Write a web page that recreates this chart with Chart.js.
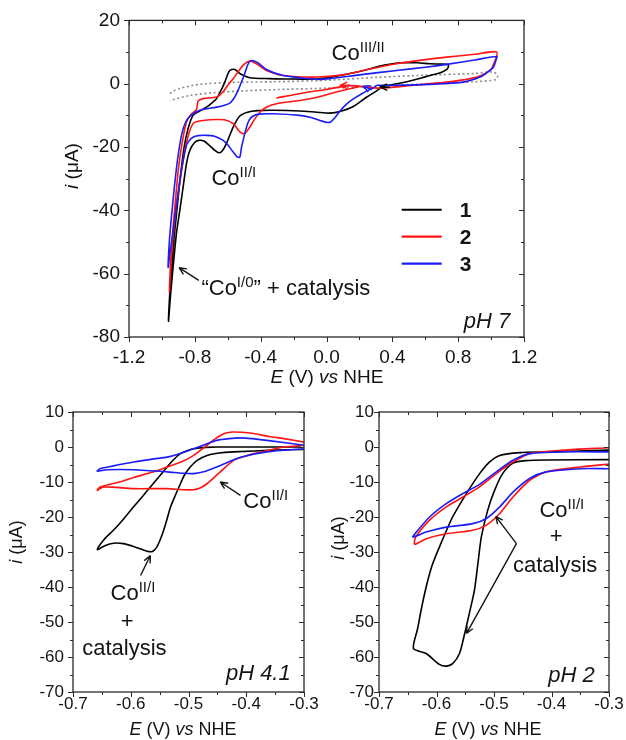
<!DOCTYPE html>
<html>
<head>
<meta charset="utf-8">
<title>Co complexes CV</title>
<script src="https://cdn.jsdelivr.net/npm/chart.js@4.4.1/dist/chart.umd.min.js"></script>
<style>
  html, body { margin: 0; padding: 0; background: #fff; }
  #wrap { position: relative; width: 626px; height: 740px; overflow: hidden; background: #fff; }
  canvas { position: absolute; }
  #c7 { left: 0; top: 0; }
  #c41 { left: 0; top: 390px; }
  #c2 { left: 300px; top: 390px; }
</style>
</head>
<body>
<div id="wrap">
  <canvas id="c7" width="626" height="390"></canvas>
  <canvas id="c41" width="340" height="350"></canvas>
  <canvas id="c2" width="326" height="350"></canvas>
</div>
<script>
/* ---- data: [E (V vs NHE), i (uA)] ---- */

// pH 7 panel
const ph7Blank = [[-0.951,-3.1],[-0.93,-2.3],[-0.891,-1.5],[-0.81,-0.5],[-0.729,0],[-0.527,0.5],[-0.326,0.6],[0,1.1],[0.3,2.0],[0.6,2.7],[0.893,3.2],[1.012,3.7],[1.04,2.6],
  [1.03,1.3],[0.89,0.6],[0.6,0],[0.282,-0.9],[0,-1.4],[-0.326,-1.9],[-0.628,-2.6],[-0.83,-3.7],[-0.951,-5.3]];
const ph7Co1 = [[0.345,-0.8],[0.30,-2.4],[0.245,-4.2],[0.163,-7.2],[0.082,-8.8],[0.02,-9.3],[-0.06,-9.0],[-0.162,-8.6],[-0.324,-8.4],[-0.42,-8.5],[-0.48,-9.0],[-0.527,-10.2],[-0.567,-13.7],[-0.608,-18.9],[-0.635,-21.3],[-0.655,-21.8],[-0.68,-21.0],[-0.709,-19.6],[-0.745,-18.1],[-0.775,-17.9],[-0.80,-18.5],[-0.83,-21],[-0.85,-25],[-0.871,-32.6],[-0.89,-39.5],[-0.912,-47.4],[-0.932,-57.9],[-0.948,-67],[-0.96,-75],
  [-0.952,-66],[-0.94,-57],[-0.925,-48],[-0.905,-38],[-0.885,-28],[-0.865,-20],[-0.84,-14],[-0.811,-10],[-0.77,-8.6],[-0.729,-7.4],[-0.69,-5.8],[-0.668,-4.7],[-0.64,-2],[-0.618,0.5],[-0.6,3],[-0.587,4.2],[-0.557,4.5],[-0.535,3.6],[-0.516,2.9],[-0.466,1.9],[-0.35,1.6],[-0.263,1.5],[-0.06,1.5],[0.02,2.0],[0.142,3.2],[0.25,4.5],[0.325,5.6],[0.446,6.6],[0.55,6.6],[0.629,6.3],[0.70,6.2],[0.74,6.0],
  [0.735,4.7],[0.70,3.6],[0.65,2.9],[0.588,2.0],[0.50,0.8],[0.426,0],[0.345,-0.8]];
const ph7Co2 = [[-0.304,-4.5],[-0.15,-3.0],[0.0,-1.8],[0.142,-0.6],[0.325,-1.4],[0.527,-0.5],[0.73,0.5],[0.873,1.6],[0.94,2.6],[0.994,4.2],[1.01,5.5],[1.035,10],
  [0.9,9.3],[0.73,8.4],[0.6,7.6],[0.426,6.3],[0.25,4.5],[0.1,2.8],[-0.06,2.1],[-0.263,2.6],[-0.365,4.2],[-0.425,6.3],[-0.466,7.2],[-0.507,5.8],[-0.567,1.6],[-0.6,-0.5],[-0.629,-2.6],[-0.668,-4.2],[-0.75,-4.7],[-0.78,-5.5],[-0.79,-8.2],[-0.82,-9.5],[-0.85,-12],[-0.875,-18],[-0.9,-27],[-0.918,-37],[-0.935,-47],[-0.948,-57],[-0.955,-66],
  [-0.945,-57],[-0.93,-47],[-0.91,-38],[-0.885,-29],[-0.86,-21],[-0.835,-15.5],[-0.811,-12.6],[-0.79,-12.0],[-0.75,-11.6],[-0.668,-11.3],[-0.62,-11.4],[-0.567,-12.6],[-0.53,-15],[-0.507,-15.8],[-0.49,-15.4],[-0.47,-14],[-0.44,-11.5],[-0.405,-9],[-0.36,-7.3],[-0.304,-6.3],[-0.162,-5.3],[-0.05,-4.2],[0.061,-2.6],[0.142,-1.6],[0.2,-0.9]];
const ph7Co3 = [[0.305,-0.5],[0.284,-1.3],[0.22,-3],[0.163,-4.8],[0.12,-6.5],[0.082,-8.6],[0.05,-10.8],[0.025,-12.1],[0.0,-12.2],[-0.04,-11.6],[-0.1,-10.6],[-0.162,-10],[-0.324,-9.5],[-0.41,-9.6],[-0.446,-10.2],[-0.47,-11.5],[-0.486,-13.7],[-0.516,-20],[-0.527,-23.2],[-0.545,-23.0],[-0.567,-21.6],[-0.6,-19.3],[-0.628,-17.9],[-0.68,-16.6],[-0.729,-16.3],[-0.78,-16.4],[-0.811,-16.9],[-0.835,-18],[-0.851,-19.5],[-0.87,-24],[-0.89,-30],[-0.91,-38],[-0.93,-46],[-0.95,-53],[-0.962,-58],
  [-0.955,-50],[-0.942,-42],[-0.925,-33],[-0.905,-24],[-0.88,-16],[-0.855,-12],[-0.83,-10.3],[-0.77,-8.4],[-0.668,-7.4],[-0.62,-6.8],[-0.587,-6.1],[-0.565,-4.8],[-0.547,-3.2],[-0.527,-0.8],[-0.507,1.8],[-0.49,4.3],[-0.476,6.3],[-0.458,7.3],[-0.44,7.2],[-0.415,6.6],[-0.365,4.5],[-0.263,2.6],[-0.06,1.4],[0.02,1.6],[0.2,2.8],[0.426,4.2],[0.6,5.2],[0.73,6.1],[0.9,7.5],[1.035,8.6],
  [1.03,7.5],[1.015,5.3],[0.975,3.5],[0.933,2.1],[0.832,0.5],[0.629,-0.2],[0.426,-0.5],[0.305,-0.5]];

// pH 4.1 panel
const ph41Co1 = [[-0.301,-0.7],[-0.35,-0.9],[-0.422,-1.4],[-0.45,-1.8],[-0.468,-2.4],[-0.485,-3.8],[-0.497,-5.7],[-0.507,-8],[-0.514,-10.5],[-0.522,-13.5],[-0.531,-17.1],[-0.537,-20.5],[-0.543,-23.8],[-0.549,-26.5],[-0.555,-28.6],[-0.561,-29.7],[-0.568,-29.9],[-0.58,-29.3],[-0.595,-28.4],[-0.613,-27.6],[-0.63,-27.5],[-0.645,-28.2],[-0.658,-29.3],
  [-0.645,-26.2],[-0.63,-23.8],[-0.612,-20.5],[-0.595,-17.1],[-0.58,-14.2],[-0.566,-11.4],[-0.55,-8.3],[-0.537,-5.7],[-0.525,-3.5],[-0.514,-1.9],[-0.5,-0.9],[-0.491,-0.5],[-0.47,-0.1],[-0.451,0],[-0.4,0],[-0.306,0]];
const ph41Co2 = [[-0.3,0.5],[-0.335,0],[-0.36,-0.9],[-0.387,-1.9],[-0.405,-2.8],[-0.422,-3.8],[-0.445,-7.1],[-0.468,-10.5],[-0.48,-11.7],[-0.491,-12.2],[-0.51,-12.2],[-0.537,-11.9],[-0.595,-11.9],[-0.647,-11.4],[-0.658,-12.4],
  [-0.653,-11.4],[-0.62,-10.0],[-0.595,-8.7],[-0.565,-7.3],[-0.537,-5.7],[-0.51,-4.1],[-0.491,-2.4],[-0.468,0.5],[-0.455,2.2],[-0.445,3.3],[-0.435,4.0],[-0.422,4.3],[-0.393,4.0],[-0.36,3.0],[-0.335,2.4],[-0.3,1.4]];
const ph41Co3 = [[-0.3,-0.5],[-0.364,-1.4],[-0.41,-2.9],[-0.43,-4.2],[-0.451,-5.7],[-0.47,-6.9],[-0.491,-7.6],[-0.51,-7.5],[-0.537,-7.1],[-0.595,-6.5],[-0.641,-6.5],[-0.658,-6.9],
  [-0.653,-6.2],[-0.63,-5.4],[-0.595,-4.3],[-0.56,-3.4],[-0.537,-2.9],[-0.51,-1.6],[-0.491,-0.5],[-0.47,0.8],[-0.451,1.9],[-0.43,2.4],[-0.41,2.6],[-0.39,2.4],[-0.364,1.9],[-0.3,0.5]];

// pH 2 panel
const ph2Co1 = [[-0.3,-0.9],[-0.409,-1.4],[-0.455,-1.6],[-0.49,-2.4],[-0.508,-4.3],[-0.525,-7.6],[-0.548,-13.3],[-0.572,-20],[-0.595,-28.6],[-0.608,-34],[-0.618,-40],[-0.626,-46],[-0.633,-52],[-0.64,-57.6],
  [-0.618,-59],[-0.595,-62.1],[-0.583,-62.6],[-0.572,-61.9],[-0.56,-59],[-0.551,-53.3],[-0.543,-47.6],[-0.534,-40.9],[-0.528,-33.3],[-0.522,-25.7],[-0.511,-18.1],[-0.499,-12.4],[-0.485,-7.6],[-0.467,-4.6],[-0.445,-3.9],[-0.409,-3.7],[-0.3,-3.6]];
const ph2Co2 = [[-0.3,-0.2],[-0.38,-0.9],[-0.438,-1.9],[-0.467,-4.3],[-0.496,-7.6],[-0.525,-11.4],[-0.554,-14.3],[-0.583,-17.1],[-0.612,-20.9],[-0.636,-25.7],[-0.638,-27.8],
  [-0.618,-26.2],[-0.583,-24.8],[-0.537,-23.8],[-0.514,-22.4],[-0.49,-19],[-0.467,-14.3],[-0.438,-9.5],[-0.409,-7.1],[-0.35,-5.7],[-0.3,-4.9]];
const ph2Co3 = [[-0.3,-1.4],[-0.38,-1.4],[-0.438,-1.9],[-0.467,-3.8],[-0.496,-7.1],[-0.525,-10.7],[-0.554,-13.3],[-0.583,-16.2],[-0.612,-20],[-0.635,-24.3],[-0.641,-25.7],
  [-0.618,-24.3],[-0.583,-22.9],[-0.537,-21.9],[-0.514,-20.5],[-0.49,-17.1],[-0.467,-12.9],[-0.438,-9],[-0.409,-7.1],[-0.35,-6.2],[-0.3,-6.2]];

// tick labels
const topXTicks = [-1.2, -0.8, -0.4, 0.0, 0.4, 0.8, 1.2];
const topYTicks = [20, 0, -20, -40, -60, -80];
const lowXTicks = [-0.7, -0.6, -0.5, -0.4, -0.3];
const lowYTicks = [10, 0, -10, -20, -30, -40, -50, -60, -70];
const seriesNames = ["1", "2", "3"];

const COL = ["#000000", "#ff1414", "#1c1cf5"];
const FONT = '"Liberation Sans", Arial, Helvetica, sans-serif';
const INK = "#141414";

const xy = pts => pts.map(([x, y]) => ({ x, y }));

function curves(sets, blank) {
  // blue on top, then red, black, blank underneath
  const out = sets.map((pts, k) => ({
    label: seriesNames[k], data: xy(pts), borderColor: COL[k], borderWidth: 1.6,
    showLine: true, pointRadius: 0, tension: 0.25, order: 2 - k
  }));
  if (blank) {
    out.push({ data: xy(blank), borderColor: "#8c8c8c", borderWidth: 1.6, borderDash: [2, 2.6],
      showLine: true, pointRadius: 0, tension: 0.25, order: 5 });
  }
  return out;
}

/* ---- helpers ---- */
function richText(ctx, parts, x, y, size, align) {
  const fontOf = p => `${p.it ? "italic " : ""}${p.b ? "bold " : ""}${p.sup ? Math.round(size * 0.66) : size}px ${FONT}`;
  let w = 0;
  const widths = parts.map(p => { ctx.font = fontOf(p); const m = ctx.measureText(p.t).width; w += m; return m; });
  let cx = align === "center" ? x - w / 2 : align === "right" ? x - w : x;
  ctx.textAlign = "left";
  ctx.textBaseline = "alphabetic";
  parts.forEach((p, k) => {
    ctx.font = fontOf(p);
    ctx.fillText(p.t, cx, p.sup ? y - size * 0.38 : y);
    cx += widths[k];
  });
}

function head(ctx, x, y, ang, len) {
  for (const s of [-1, 1]) {
    ctx.moveTo(x, y);
    ctx.lineTo(x - len * Math.cos(ang + s * 0.42), y - len * Math.sin(ang + s * 0.42));
  }
}

/* ---- frame with Origin style ticks ---- */
const framePlugin = {
  id: "frame",
  afterDraw(chart) {
    const o = chart.options.plugins.frame;
    const { ctx, chartArea: a } = chart;
    const sx = chart.scales.x, sy = chart.scales.y;
    ctx.save();
    ctx.strokeStyle = "#2a2a2a";
    ctx.lineWidth = 1.3;
    ctx.strokeRect(a.left, a.top, a.right - a.left, a.bottom - a.top);
    ctx.lineWidth = 1;
    ctx.beginPath();
    const nx = Math.round((sx.max - sx.min) / o.xMinor);
    for (let k = 0; k <= nx; k++) {
      const px = Math.round(sx.getPixelForValue(sx.min + k * o.xMinor)) + 0.5;
      const len = k % 2 === 0 ? 5 : 3;
      ctx.moveTo(px, a.bottom); ctx.lineTo(px, a.bottom + len);
      ctx.moveTo(px, a.top); ctx.lineTo(px, a.top + len);
    }
    const ny = Math.round((sy.max - sy.min) / o.yMinor);
    for (let k = 0; k <= ny; k++) {
      const py = Math.round(sy.getPixelForValue(sy.min + k * o.yMinor)) + 0.5;
      const len = k % 2 === 0 ? 5 : 3;
      ctx.moveTo(a.left - len, py); ctx.lineTo(a.left, py);
      ctx.moveTo(a.right - len, py); ctx.lineTo(a.right, py);
    }
    ctx.stroke();
    ctx.restore();
  }
};

/* ---- labels, arrows, legend, axis titles ---- */
const notesPlugin = {
  id: "notes",
  afterDraw(chart) {
    const n = chart.options.plugins.notes;
    const { ctx } = chart;
    const sx = chart.scales.x, sy = chart.scales.y;
    const X = v => sx.getPixelForValue(v), Y = v => sy.getPixelForValue(v);
    ctx.save();
    ctx.fillStyle = INK;
    ctx.strokeStyle = INK;
    (n.texts || []).forEach(t => richText(ctx, t.parts, X(t.x), Y(t.y), t.size, t.align || "left"));

    ctx.lineWidth = 1.4;
    ctx.beginPath();
    (n.arrows || []).forEach(ar => {
      const x1 = X(ar.from[0]), y1 = Y(ar.from[1]), x2 = X(ar.to[0]), y2 = Y(ar.to[1]);
      ctx.moveTo(x1, y1); ctx.lineTo(x2, y2);
      head(ctx, x2, y2, Math.atan2(y2 - y1, x2 - x1), 8);
    });
    ctx.stroke();

    (n.chevrons || []).forEach(c => {
      ctx.strokeStyle = COL[c.s];
      ctx.lineWidth = 1.4;
      ctx.beginPath();
      head(ctx, X(c.x), Y(c.y), c.ang, 8);
      ctx.moveTo(X(c.x), Y(c.y)); ctx.lineTo(X(c.x) - 10 * Math.cos(c.ang), Y(c.y) - 10 * Math.sin(c.ang));
      ctx.stroke();
    });

    if (n.legend) {
      const L = n.legend;
      chart.data.datasets.filter(d => d.label).forEach((d, k) => {
        const y = Y(L.ys[k]);
        ctx.strokeStyle = d.borderColor;
        ctx.lineWidth = 2.2;
        ctx.beginPath();
        ctx.moveTo(X(L.x1), y); ctx.lineTo(X(L.x2), y);
        ctx.stroke();
        ctx.fillStyle = INK;
        richText(ctx, [{ t: d.label, b: true }], X(L.tx), y + 7.5, 21, "left");
      });
    }

    ctx.fillStyle = INK;
    richText(ctx, [{ t: "E", it: true }, { t: " (V) " }, { t: "vs", it: true }, { t: " NHE" }], n.xTitle[0], n.xTitle[1], n.titleSize, "center");
    ctx.translate(n.yTitle[0], n.yTitle[1]);
    ctx.rotate(-Math.PI / 2);
    richText(ctx, [{ t: "i", it: true }, { t: " (\u03bcA)" }], 0, 0, n.titleSize, "center");
    ctx.restore();
  }
};

function makeChart(id, cfg) {
  return new Chart(document.getElementById(id), {
    type: "scatter",
    data: { datasets: cfg.datasets },
    options: {
      responsive: false,
      animation: false,
      events: [],
      layout: { padding: cfg.padding },
      plugins: {
        legend: { display: false },
        tooltip: { enabled: false },
        frame: cfg.frame,
        notes: cfg.notes
      },
      scales: {
        x: {
          type: "linear", min: cfg.xRange[0], max: cfg.xRange[1],
          afterBuildTicks: s => { s.ticks = cfg.xTicks.map(v => ({ value: v })); },
          afterFit: s => { s.height = cfg.xH; },
          grid: { display: false, drawTicks: false },
          border: { display: false },
          ticks: { padding: cfg.xPad, color: INK, font: { family: FONT, size: cfg.tickSize }, maxRotation: 0, autoSkip: false,
            callback: v => v.toFixed(1) }
        },
        y: {
          type: "linear", min: cfg.yRange[0], max: cfg.yRange[1],
          afterBuildTicks: s => { s.ticks = cfg.yTicks.map(v => ({ value: v })); },
          afterFit: s => { s.width = cfg.yW; },
          grid: { display: false, drawTicks: false },
          border: { display: false },
          ticks: { padding: cfg.yPad, color: INK, font: { family: FONT, size: cfg.tickSize }, autoSkip: false,
            callback: v => String(v) }
        }
      }
    },
    plugins: [framePlugin, notesPlugin]
  });
}

const coSup = sup => [{ t: "Co" }, { t: sup, sup: true }];

/* ---- pH 7 ---- */
makeChart("c7", {
  datasets: curves([ph7Co1, ph7Co2, ph7Co3], ph7Blank),
  xRange: [-1.2, 1.2], yRange: [-80, 20], xTicks: topXTicks, yTicks: topYTicks,
  padding: { top: 20, right: 102, left: 0, bottom: 0 },
  xH: 53, yW: 129, xPad: 9, yPad: 9, tickSize: 19,
  frame: { xMinor: 0.2, yMinor: 10 },
  notes: {
    titleSize: 19, xTitle: [327, 383], yTitle: [78, 166],
    texts: [
      { parts: coSup("III/II"), x: 0.031, y: 7.4, size: 22 },
      { parts: coSup("II/I"), x: -0.699, y: -32.1, size: 22 },
      { parts: [{ t: "\u201cCo" }, { t: "I/0", sup: true }, { t: "\u201d + catalysis" }], x: -0.76, y: -66.8, size: 22 },
      { parts: [{ t: "pH 7", it: true }], x: 1.116, y: -77.3, size: 22, align: "right" }
    ],
    arrows: [{ from: [-0.776, -62.1], to: [-0.896, -58.1] }],
    chevrons: [
      { s: 0, x: 0.325, y: -1.1, ang: Math.PI },
      { s: 1, x: 0.081, y: -0.5, ang: Math.PI },
      { s: 2, x: 0.22, y: -0.8, ang: Math.PI + 0.35 }
    ],
    legend: { x1: 0.457, x2: 0.70, tx: 0.81, ys: [-39.8, -48.3, -56.8] }
  }
});

/* ---- pH 4.1 ---- */
makeChart("c41", {
  datasets: curves([ph41Co1, ph41Co2, ph41Co3]),
  xRange: [-0.7, -0.3], yRange: [-70, 10], xTicks: lowXTicks, yTicks: lowYTicks,
  padding: { top: 22, right: 36, left: 0, bottom: 0 },
  xH: 48, yW: 73, xPad: 2, yPad: 9, tickSize: 17,
  frame: { xMinor: 0.05, yMinor: 5 },
  notes: {
    titleSize: 18, xTitle: [183, 345], yTitle: [22, 152],
    texts: [
      { parts: coSup("II/I"), x: -0.405, y: -17.5, size: 22 },
      { parts: coSup("II/I"), x: -0.635, y: -43.8, size: 22 },
      { parts: [{ t: "+" }], x: -0.606, y: -51.6, size: 22, align: "center" },
      { parts: [{ t: "catalysis" }], x: -0.684, y: -59.5, size: 22 },
      { parts: [{ t: "pH 4.1", it: true }], x: -0.323, y: -66.7, size: 22, align: "right" }
    ],
    arrows: [
      { from: [-0.41, -13.8], to: [-0.445, -10] },
      { from: [-0.583, -36.7], to: [-0.566, -31] }
    ]
  }
});

/* ---- pH 2 ---- */
makeChart("c2", {
  datasets: curves([ph2Co1, ph2Co2, ph2Co3]),
  xRange: [-0.7, -0.3], yRange: [-70, 10], xTicks: lowXTicks, yTicks: lowYTicks,
  padding: { top: 22, right: 17, left: 0, bottom: 0 },
  xH: 48, yW: 79, xPad: 2, yPad: 5, tickSize: 17,
  frame: { xMinor: 0.05, yMinor: 5 },
  notes: {
    titleSize: 18, xTitle: [188, 345], yTitle: [44, 148],
    texts: [
      { parts: coSup("II/I"), x: -0.421, y: -20.1, size: 22 },
      { parts: [{ t: "+" }], x: -0.392, y: -27.5, size: 22, align: "center" },
      { parts: [{ t: "catalysis" }], x: -0.467, y: -35.8, size: 22 },
      { parts: [{ t: "pH 2", it: true }], x: -0.325, y: -67.1, size: 22, align: "right" }
    ],
    arrows: [
      { from: [-0.461, -27.6], to: [-0.497, -19.8] },
      { from: [-0.461, -27.6], to: [-0.548, -53.3] }
    ]
  }
});
</script>
</body>
</html>
